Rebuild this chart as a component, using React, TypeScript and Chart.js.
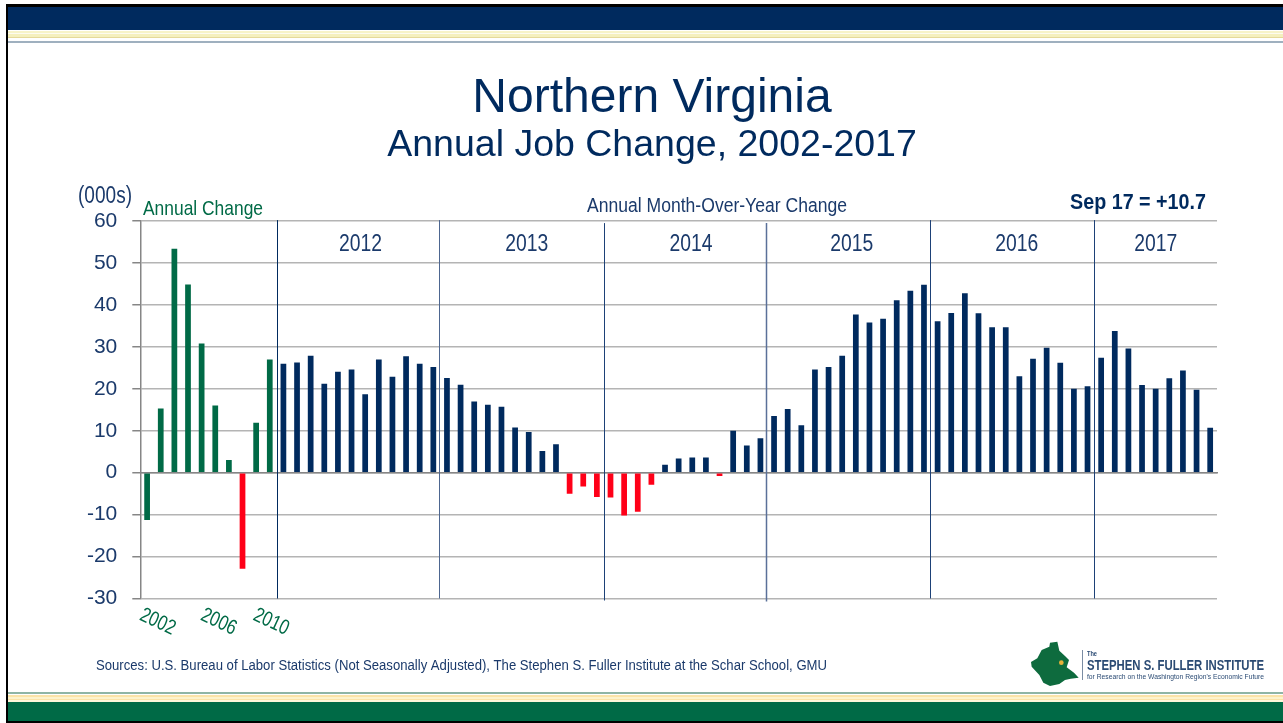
import React, { useEffect, useRef } from "react";
import { Chart, registerables } from "chart.js";

Chart.register(...registerables);

const annualLabels = ["2002","2003","2004","2005","2006","2007","2008","2009","2010","2011"];
const annualValues = [-11.3,15.3,53.4,44.9,30.8,16,3,-22.9,11.9,27];
const annualColors = ["g","g","g","g","g","g","g","r","g","g"];
const months = ["Jan","Feb","Mar","Apr","May","Jun","Jul","Aug","Sep","Oct","Nov","Dec"];
const v2012 = [26,26.3,27.9,21.2,24.1,24.6,18.7,27,22.9,27.8,26,25.2];
const v2013 = [22.6,21,17,16.2,15.7,10.8,9.7,5.2,6.8,-5,-3.3,-5.8];
const v2014 = [-5.9,-10.2,-9.3,-2.9,1.9,3.4,3.6,3.6,-0.8,10,6.5,8.2];
const v2015 = [13.5,15.2,11.3,24.6,25.2,27.9,37.7,35.8,36.7,41.1,43.4,44.8];
const v2016 = [36.1,38.1,42.8,38,34.7,34.7,23,27.2,29.8,26.2,20,20.6];
const v2017 = [27.4,33.8,29.6,20.9,20,22.5,24.4,19.8,10.7];
const yearNames = ["2012","2013","2014","2015","2016","2017"];
const yearSeries = [v2012,v2013,v2014,v2015,v2016,v2017];
const yearLabelCenters = [15.65,27.85,39.9,51.7,63.8,74];
const yearLineNudge = [0,-1,0,-1,-1,0];
const yearLineTop = [-1,-1,2,2,-1,-1];
const yearLineBottom = [0,0,2,3,0,0];
const yearLineColor = ["#002A5E","#4D6690","#1D4177","#5A7099","#1D4177","#1D4177"];
const yearLineWidth = [1,1,1,1.5,1,1];
const xTickShown = ["2002","2006","2010"];
const xTickNudge = [10.5,17,15];

const NAVY = "#002A5E";
const TEXTNAVY = "#1B3A6B";
const GREEN = "#006A46";
const RED = "#FF0018";
const GRID = "#B4B4B4";
const AXIS = "#868686";

const labels: string[] = [...annualLabels];
const values: number[] = [...annualValues];
const colors: string[] = annualColors.map((c) => (c === "g" ? GREEN : RED));
const yearStarts: number[] = [];
yearSeries.forEach((s, i) => {
  yearStarts.push(labels.length);
  s.forEach((v, m) => {
    labels.push(months[m] + " " + yearNames[i]);
    values.push(v);
    colors.push(v < 0 ? RED : NAVY);
  });
});

function fit(ctx: CanvasRenderingContext2D, text: string, x: number, y: number, w: number, font: string, color: string, rot = 0) {
  ctx.save();
  ctx.font = font;
  ctx.fillStyle = color;
  ctx.textBaseline = "middle";
  ctx.textAlign = "left";
  const m = ctx.measureText(text).width;
  ctx.translate(x, y);
  if (rot) ctx.rotate(rot);
  ctx.scale(w / m, 1);
  ctx.fillText(text, rot ? -m / 2 : 0, 0);
  ctx.restore();
}

const F = '"Liberation Sans", Arial, sans-serif';

const annotations = {
  id: "annotations",
  afterDatasetsDraw(chart: any) {
    const ctx: CanvasRenderingContext2D = chart.ctx;
    const x = chart.scales.x;
    const a = chart.chartArea;
    const step = x.getPixelForValue(1) - x.getPixelForValue(0);
    yearStarts.forEach((s, i) => {
      const px = Math.round(x.getPixelForValue(s) - step / 2) + 0.5 + yearLineNudge[i];
      ctx.save();
      ctx.strokeStyle = yearLineColor[i];
      ctx.lineWidth = yearLineWidth[i];
      ctx.beginPath();
      ctx.moveTo(px, a.top + yearLineTop[i]);
      ctx.lineTo(px, a.bottom + yearLineBottom[i]);
      ctx.stroke();
      ctx.restore();
    });
    yearNames.forEach((n, i) => {
      const c = x.getPixelForValue(yearLabelCenters[i]);
      fit(ctx, n, c - 21.5, 244.5, 43, `23px ${F}`, TEXTNAVY);
    });
    xTickShown.forEach((n, i) => {
      const idx = annualLabels.indexOf(n);
      fit(ctx, n, x.getPixelForValue(idx) + xTickNudge[i], 622, 37, `21px ${F}`, GREEN, (25 * Math.PI) / 180);
    });
    fit(ctx, "(000s)", 78, 197, 54, `23px ${F}`, TEXTNAVY);
    fit(ctx, "Annual Change", 143, 209, 120, `21px ${F}`, GREEN);
    fit(ctx, "Annual Month-Over-Year Change", 587, 206, 260, `20px ${F}`, TEXTNAVY);
    fit(ctx, "Sep 17 = +10.7", 1070, 203, 136, `bold 22px ${F}`, NAVY);
    fit(ctx, "Sources: U.S. Bureau of Labor Statistics (Not Seasonally Adjusted), The Stephen S. Fuller Institute at the Schar School, GMU", 96, 666, 731, `14px ${F}`, TEXTNAVY);
    fit(ctx, "The", 1087, 654, 10, `bold 7px ${F}`, "#2A4A73");
    fit(ctx, "STEPHEN S. FULLER INSTITUTE", 1087, 666, 177, `bold 14px ${F}`, "#2A4A73");
    fit(ctx, "for Research on the Washington Region's Economic Future", 1087, 677, 177, `8px ${F}`, "#2A4A73");
  },
};

function Band({ top, h, c }: { top: number; h: number; c: string }) {
  return <div style={{ position: "absolute", left: 8, right: 0, top, height: h, background: c }} />;
}

export default function App() {
  const ref = useRef<HTMLCanvasElement>(null);
  useEffect(() => {
    document.body.style.margin = "0";
    const chart = new Chart(ref.current!, {
      type: "bar",
      data: {
        labels,
        datasets: [{ data: values, backgroundColor: colors, barPercentage: 0.42, categoryPercentage: 1 }],
      },
      plugins: [annotations],
      options: {
        animation: false,
        responsive: false,
        layout: { padding: { left: 87, right: 66, top: 0, bottom: 124.5 } },
        plugins: {
          legend: { display: false },
          tooltip: { enabled: false },
          title: {
            display: true,
            text: "Northern Virginia",
            color: NAVY,
            font: { family: F, size: 48, weight: "normal", lineHeight: 1.2 },
            padding: { top: 70, bottom: -4 },
          },
          subtitle: {
            display: true,
            text: "Annual Job Change, 2002-2017",
            color: NAVY,
            font: { family: F, size: 37.5, weight: "normal", lineHeight: 1.2 },
            padding: { top: 0, bottom: 52.5 },
          },
        },
        scales: {
          x: {
            position: { y: 0 },
            grid: { display: false, drawTicks: false },
            border: { color: AXIS, width: 1.5 },
            ticks: { display: false },
          },
          y: {
            min: -30,
            max: 60,
            afterFit: (s: any) => {
              s.width = 53.3;
            },
            grid: { color: GRID, lineWidth: 1.5, tickLength: 8, tickColor: AXIS },
            border: { color: AXIS, width: 1.5 },
            ticks: {
              stepSize: 10,
              padding: 15,
              color: TEXTNAVY,
              font: { family: F, size: 21 },
            },
          },
        },
      },
    } as any);
    return () => chart.destroy();
  }, []);
  return (
    <div style={{ position: "absolute", left: 0, top: 0, width: 1283, height: 723, background: "#fff", overflow: "hidden" }}>
      <div style={{ position: "absolute", left: 6, top: 4, width: 2, height: 719, background: "#000" }} />
      <div style={{ position: "absolute", left: 6, right: 0, top: 4, height: 3, background: "#000" }} />
      <Band top={7} h={23} c="#002A5E" />
      <Band top={31} h={2} c="#F7F3C8" />
      <Band top={33} h={1} c="#FDFBEF" />
      <Band top={34} h={3} c="#F5F0BE" />
      <Band top={37} h={1} c="#E5D99A" />
      <Band top={41} h={2} c="#9FB0BF" />
      <Band top={692} h={2} c="#8FB5A5" />
      <Band top={695} h={2} c="#FBE3A8" />
      <Band top={697} h={2} c="#FDF3CC" />
      <Band top={699} h={1} c="#FBE3A8" />
      <Band top={700} h={2} c="#FDF6DA" />
      <Band top={702} h={19} c="#006A46" />
      <div style={{ position: "absolute", left: 6, right: 0, top: 721, height: 2, background: "#000" }} />
      <svg style={{ position: "absolute", left: 1000, top: 630 }} width={90} height={60} viewBox="0 0 270 180">
        <polygon fill="#0E6B3E" points="150,38 172,35 178,62 195,78 207,90 200,112 222,128 236,143 212,146 195,150 178,162 150,168 130,158 118,135 95,110 93,96 112,85 125,60 148,50" />
        <circle cx="184" cy="98" r="7" fill="#E8B23A" />
      </svg>
      <div style={{ position: "absolute", left: 1082, top: 650, width: 1, height: 30, background: "#7A8CA3" }} />
      <canvas ref={ref} width={1283} height={723} style={{ position: "absolute", left: 0, top: 0, display: "block" }} />
    </div>
  );
}
